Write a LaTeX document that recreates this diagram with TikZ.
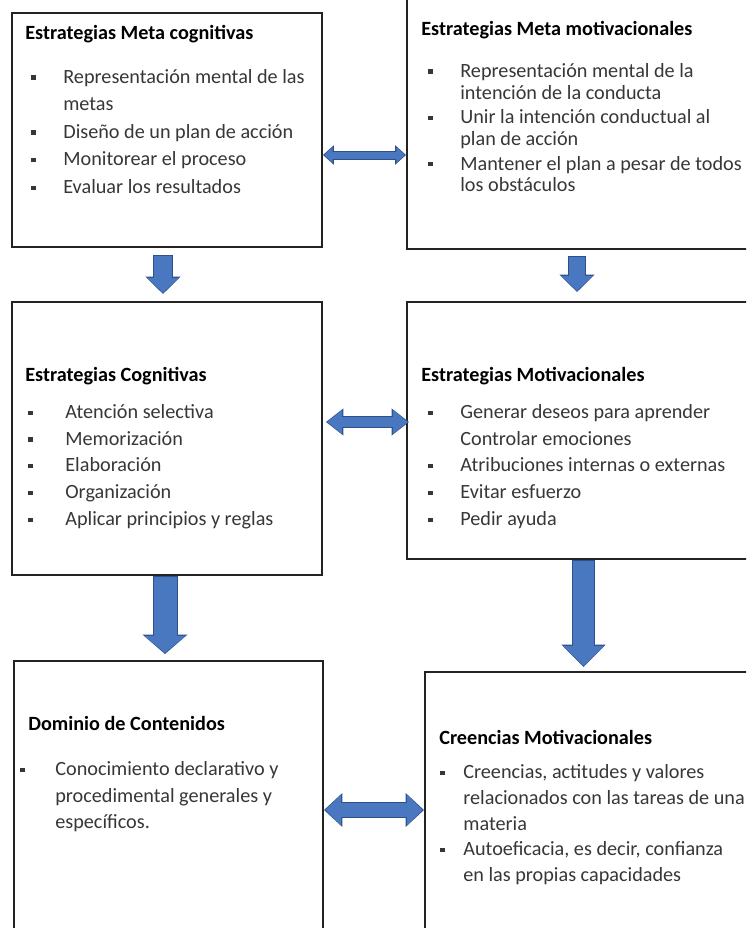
\documentclass[tikz,border=0pt]{standalone}
\usepackage{fontspec}
\setmainfont{Carlito}
\usetikzlibrary{positioning, arrows.meta, calc}
\definecolor{MSBlue}{RGB}{74,120,192}
\definecolor{MSEdge}{RGB}{46,80,138}
\definecolor{MSInk}{RGB}{35,35,35}
\definecolor{MSGray}{RGB}{55,55,55}
\newcommand{\bul}[1]{\makebox[#1][l]{\hspace*{-0.04cm}\raisebox{0.18em}{\rule{0.085cm}{0.085cm}}}}
\newcommand{\cont}[1]{\hspace*{#1}}

\begin{document}
\begin{tikzpicture}[
      box/.style={rectangle, draw=MSInk, line width=1.1pt, fill=white},
      ttl/.style={anchor=west, inner sep=0pt, text=black,
                  font=\fontsize{11.5}{13}\selectfont\bfseries},
      lst/.style={anchor=north west, inner sep=0pt, align=left, text=MSGray},
      arrout/.style={draw=MSEdge},
      arrin/.style={draw=MSBlue, shorten <=0.025cm, shorten >=0.025cm}
    ]
    \clip (0,0) rectangle (14.92,-18.56);
    \fill[white] (0,0) rectangle (14.92,-18.56);

    % Boxes
    \node[box, minimum width=6.2cm, minimum height=4.68cm] (metacog) at (3.34,-2.6) {};
    \node[box, minimum width=7.06cm, minimum height=5.08cm] (metamot) at (11.67,-2.44) {};
    \node[box, minimum width=6.2cm, minimum height=5.46cm] (cog) at (3.34,-8.77) {};
    \node[box, minimum width=7.06cm, minimum height=5.14cm] (mot) at (11.67,-8.61) {};
    \node[box, minimum width=6.18cm, minimum height=5.58cm] (dom) at (3.37,-16.01) {};
    \node[box, minimum width=6.7cm, minimum height=5.36cm] (cre) at (11.85,-16.12) {};

    % Estrategias Meta cognitivas
    \node[ttl] (metacogT) at (0.5,-0.68) {Estrategias Meta cognitivas};
    \node[lst, font=\fontsize{11.5}{15.7}\selectfont] (metacogL) at (0.66,-1.27)
      {\strut\bul{0.6cm}Representación mental de las\\
       \cont{0.6cm}metas\\
       \bul{0.6cm}Diseño de un plan de acción\\
       \bul{0.6cm}Monitorear el proceso\\
       \bul{0.6cm}Evaluar los resultados};

    % Estrategias Meta motivacionales
    \node[ttl] (metamotT) at (8.42,-0.6) {Estrategias Meta motivacionales};
    \node[lst, font=\fontsize{11.5}{12.5}\selectfont] (metamotL) at (8.6,-1.23)
      {\strut\bul{0.6cm}Representación mental de la\\
       \cont{0.6cm}intención de la conducta\\[1.4pt]
       \bul{0.6cm}Unir la intención conductual al\\
       \cont{0.6cm}plan de acción\\[1.4pt]
       \bul{0.6cm}Mantener el plan a pesar de todos\\
       \cont{0.6cm}los obstáculos};

    % Estrategias Cognitivas
    \node[ttl] (cogT) at (0.5,-7.53) {Estrategias Cognitivas};
    \node[lst, font=\fontsize{11.5}{15.2}\selectfont] (cogL) at (0.6,-7.99)
      {\strut\bul{0.7cm}Atención selectiva\\
       \bul{0.7cm}Memorización\\
       \bul{0.7cm}Elaboración\\
       \bul{0.7cm}Organización\\
       \bul{0.7cm}Aplicar principios y reglas};

    % Estrategias Motivacionales
    \node[ttl] (motT) at (8.42,-7.53) {Estrategias Motivacionales};
    \node[lst, font=\fontsize{11.5}{15.2}\selectfont] (motL) at (8.6,-7.99)
      {\strut\bul{0.6cm}Generar deseos para aprender\\
       \cont{0.6cm}Controlar emociones\\
       \bul{0.6cm}Atribuciones internas o externas\\
       \bul{0.6cm}Evitar esfuerzo\\
       \bul{0.6cm}Pedir ayuda};

    % Dominio de Contenidos
    \node[ttl] (domT) at (0.56,-14.47) {Dominio de Contenidos};
    \node[lst, font=\fontsize{11.5}{15}\selectfont] (domL) at (0.44,-15.14)
      {\strut\bul{0.66cm}Conocimiento declarativo y\\
       \cont{0.66cm}procedimental generales y\\
       \cont{0.66cm}específicos.};

    % Creencias Motivacionales
    \node[ttl] (creT) at (8.78,-14.75) {Creencias Motivacionales};
    \node[lst, font=\fontsize{11.5}{14.7}\selectfont] (creL) at (8.84,-15.2)
      {\strut\bul{0.42cm}Creencias, actitudes y valores\\
       \cont{0.42cm}relacionados con las tareas de una\\
       \cont{0.42cm}materia\\
       \bul{0.42cm}Autoeficacia, es decir, confianza\\
       \cont{0.42cm}en las propias capacidades};

    % Horizontal links
    \draw[arrout, line width=0.18cm, {Triangle[length=0.22cm,width=0.38cm]}-{Triangle[length=0.22cm,width=0.38cm]}]
          ([yshift=-0.5cm]metacog.east) -- ([yshift=-0.5cm]metacog.east -| metamot.west);
    \draw[arrin, line width=0.14cm, {Triangle[length=0.17cm,width=0.3cm]}-{Triangle[length=0.17cm,width=0.3cm]}]
          ([yshift=-0.5cm]metacog.east) -- ([yshift=-0.5cm]metacog.east -| metamot.west);

    \draw[arrout, line width=0.24cm, {Triangle[length=0.35cm,width=0.52cm]}-{Triangle[length=0.35cm,width=0.52cm]}]
          ([xshift=0.06cm,yshift=0.33cm]cog.east) -- ([xshift=0.06cm,yshift=0.33cm]cog.east -| mot.west);
    \draw[arrin, line width=0.2cm, {Triangle[length=0.3cm,width=0.46cm]}-{Triangle[length=0.3cm,width=0.46cm]}]
          ([xshift=0.06cm,yshift=0.33cm]cog.east) -- ([xshift=0.06cm,yshift=0.33cm]cog.east -| mot.west);

    \draw[arrout, line width=0.32cm, {Triangle[length=0.37cm,width=0.66cm]}-{Triangle[length=0.37cm,width=0.66cm]}]
          ([yshift=-0.19cm]dom.east) -- ([yshift=-0.19cm]dom.east -| cre.west);
    \draw[arrin, line width=0.28cm, {Triangle[length=0.32cm,width=0.6cm]}-{Triangle[length=0.32cm,width=0.6cm]}]
          ([yshift=-0.19cm]dom.east) -- ([yshift=-0.19cm]dom.east -| cre.west);

    % Downward links
    \draw[arrout, line width=0.4cm, -{Triangle[length=0.35cm,width=0.68cm]}]
          ([xshift=-0.08cm,yshift=-0.14cm]metacog.south) -- ([xshift=-0.08cm,yshift=0.14cm]metacog.south |- cog.north);
    \draw[arrin, line width=0.36cm, -{Triangle[length=0.3cm,width=0.62cm]}]
          ([xshift=-0.08cm,yshift=-0.14cm]metacog.south) -- ([xshift=-0.08cm,yshift=0.14cm]metacog.south |- cog.north);

    \draw[arrout, line width=0.36cm, -{Triangle[length=0.35cm,width=0.68cm]}]
          ([xshift=-0.13cm,yshift=-0.12cm]metamot.south) -- ([xshift=-0.13cm,yshift=0.18cm]metamot.south |- mot.north);
    \draw[arrin, line width=0.32cm, -{Triangle[length=0.3cm,width=0.62cm]}]
          ([xshift=-0.13cm,yshift=-0.12cm]metamot.south) -- ([xshift=-0.13cm,yshift=0.18cm]metamot.south |- mot.north);

    \draw[arrout, line width=0.5cm, -{Triangle[length=0.39cm,width=0.88cm]}]
          ([xshift=-0.04cm]cog.south) -- ([xshift=-0.04cm,yshift=0.12cm]cog.south |- dom.north);
    \draw[arrin, line width=0.46cm, -{Triangle[length=0.34cm,width=0.82cm]}]
          ([xshift=-0.04cm]cog.south) -- ([xshift=-0.04cm,yshift=0.12cm]cog.south |- dom.north);

    \draw[arrout, line width=0.46cm, -{Triangle[length=0.45cm,width=0.86cm]}]
          (mot.south) -- ([yshift=0.08cm]mot.south |- cre.north);
    \draw[arrin, line width=0.42cm, -{Triangle[length=0.4cm,width=0.8cm]}]
          (mot.south) -- ([yshift=0.08cm]mot.south |- cre.north);
  \end{tikzpicture}
\end{document}
